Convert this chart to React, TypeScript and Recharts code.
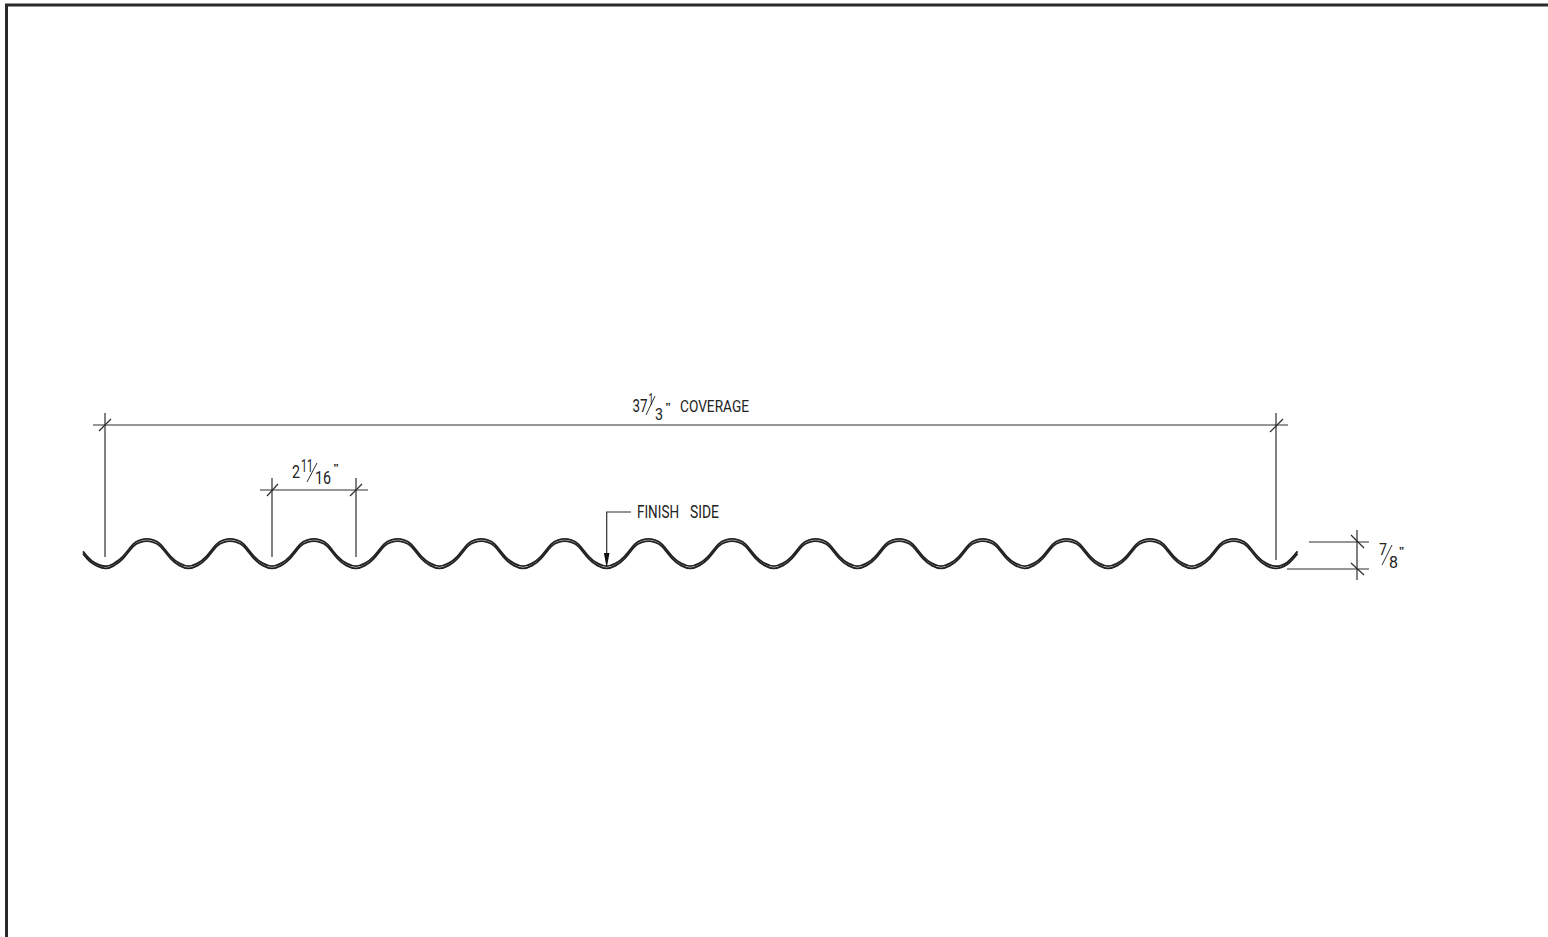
import { ComposedChart, Line, Scatter, XAxis, YAxis } from "recharts"

// bottoms of the corrugations
const troughX = [105, 188.4, 272, 355.8, 439.4, 523, 606.6, 690.2, 773.8, 857.4, 941, 1024.6, 1108.2, 1191.8]
// one wave of the sheet, trough to next trough
const waveDx = [0, 9, 18, 28, 35, 41.8, 48.6, 55.6, 65.6, 74.6]
const waveY = [567.3, 564.5, 557.5, 545.5, 541.2, 540, 541.2, 545.5, 557.5, 564.5]

const profileCentre = [
  { x: 83, y: 552.5 },
  { x: 92, y: 562 },
  ...troughX.flatMap((t) => waveDx.map((dx, i) => ({ x: t + dx, y: waveY[i] }))),
  { x: 1275.6, y: 567.3 },
  { x: 1287, y: 563.5 },
  { x: 1297.5, y: 552.5 }
]
const profileTop = profileCentre.map((p) => ({ x: p.x, y: p.y - 1.1 }))
const profileBottom = profileCentre.map((p) => ({ x: p.x, y: p.y + 1.1 }))

const frame = [
  { x: 6.5, y: 940 },
  { x: 6.5, y: 5 },
  { x: 1550, y: 5 }
]

const dimLines = [
  [{ x: 93, y: 425 }, { x: 1288, y: 425 }],
  [{ x: 105, y: 413 }, { x: 105, y: 557 }],
  [{ x: 1276, y: 413 }, { x: 1276, y: 560 }],
  [{ x: 260, y: 490 }, { x: 368, y: 490 }],
  [{ x: 272, y: 478 }, { x: 272, y: 557 }],
  [{ x: 356, y: 478 }, { x: 356, y: 557 }],
  [{ x: 1309, y: 542 }, { x: 1369, y: 542 }],
  [{ x: 1287, y: 569 }, { x: 1369, y: 569 }],
  [{ x: 1357, y: 530 }, { x: 1357, y: 580 }],
  [{ x: 631, y: 512 }, { x: 606.7, y: 512 }, { x: 606.7, y: 556 }]
]

const slashes = [
  [{ x: 99, y: 431 }, { x: 111, y: 419 }],
  [{ x: 1270, y: 432 }, { x: 1283, y: 419 }],
  [{ x: 267, y: 496 }, { x: 278, y: 484 }],
  [{ x: 350, y: 496 }, { x: 362, y: 484 }],
  [{ x: 1351, y: 535 }, { x: 1364, y: 548 }],
  [{ x: 1351, y: 563 }, { x: 1364, y: 575 }]
]

const arrowTip = [{ x: 606.7, y: 568 }]

const labels = [
  { x: 632.5, y: 411.5, text: "37", w: 15, size: 18 },
  { x: 648.5, y: 405, text: "1", w: 5, size: 16 },
  { x: 655, y: 420, text: "3", w: 8, size: 17 },
  { x: 680, y: 412, text: "COVERAGE", w: 69, size: 17 },
  { x: 292, y: 478, text: "2", w: 8, size: 18 },
  { x: 301, y: 472, text: "11", w: 12, size: 18 },
  { x: 315, y: 484, text: "16", w: 16, size: 18 },
  { x: 637, y: 518, text: "FINISH", w: 42, size: 18 },
  { x: 690, y: 518, text: "SIDE", w: 29, size: 18 },
  { x: 1379, y: 555, text: "7", w: 8, size: 17 },
  { x: 1389, y: 568, text: "8", w: 9, size: 17 }
]

const fractionBars = [
  [{ x: 646, y: 415 }, { x: 655, y: 396 }],
  [{ x: 307, y: 482 }, { x: 317, y: 463 }],
  [{ x: 1382, y: 565 }, { x: 1392, y: 545 }]
]

const inchMarks = [
  { x: 668, y: 411 },
  { x: 336, y: 472 },
  { x: 1401.5, y: 555 }
]

const ink = "#2a2a2a"

const LabelShape = (props: any) => {
  const { cx, cy, payload } = props
  return (
    <text
      x={cx}
      y={cy}
      fontFamily="Roboto, sans-serif"
      fontWeight={400}
      fontSize={payload.size}
      fill="#222"
      textLength={payload.w}
      lengthAdjust="spacingAndGlyphs"
    >
      {payload.text}
    </text>
  )
}

const InchShape = (props: any) => (
  <text
    x={props.cx}
    y={props.cy}
    textAnchor="middle"
    fontFamily="'Liberation Sans', sans-serif"
    fontSize={11}
    fontWeight="bold"
    fill={ink}
  >
    {"\u201D"}
  </text>
)

const ArrowShape = (props: any) => {
  const { cx, cy } = props
  return <path d={`M${cx} ${cy}L${cx - 2.8} ${cy - 15}L${cx + 2.8} ${cy - 15}Z`} fill="#111" />
}

const lineProps = { dataKey: "y", dot: false, activeDot: false, isAnimationActive: false, legendType: "none" as const }

export default function App() {
  return (
    <div style={{ position: "absolute", left: 0, top: 0, width: 1548, height: 937, overflow: "hidden", background: "#fff" }}>
      <ComposedChart width={1548} height={937} margin={{ top: 0, right: 0, bottom: 0, left: 0 }}>
        <XAxis type="number" dataKey="x" domain={[0, 1548]} hide allowDataOverflow />
        <YAxis type="number" dataKey="y" domain={[0, 937]} reversed hide allowDataOverflow />

        <Line {...lineProps} data={frame} stroke={ink} strokeWidth={3} />

        {dimLines.map((d, i) => (
          <Line {...lineProps} key={`dim${i}`} data={d} stroke="#2e2e2e" strokeWidth={1.2} />
        ))}
        {slashes.map((d, i) => (
          <Line {...lineProps} key={`sl${i}`} data={d} stroke="#2e2e2e" strokeWidth={1.2} />
        ))}
        {fractionBars.map((d, i) => (
          <Line {...lineProps} key={`fr${i}`} data={d} stroke="#2e2e2e" strokeWidth={1} />
        ))}

        <Line {...lineProps} data={profileTop} type="natural" stroke="#222" strokeWidth={1.8} />
        <Line {...lineProps} data={profileBottom} type="natural" stroke="#222" strokeWidth={1.8} />

        <Scatter data={arrowTip} dataKey="y" shape={ArrowShape} isAnimationActive={false} />
        <Scatter data={labels} dataKey="y" shape={LabelShape} isAnimationActive={false} />
        <Scatter data={inchMarks} dataKey="y" shape={InchShape} isAnimationActive={false} />
      </ComposedChart>
    </div>
  )
}
